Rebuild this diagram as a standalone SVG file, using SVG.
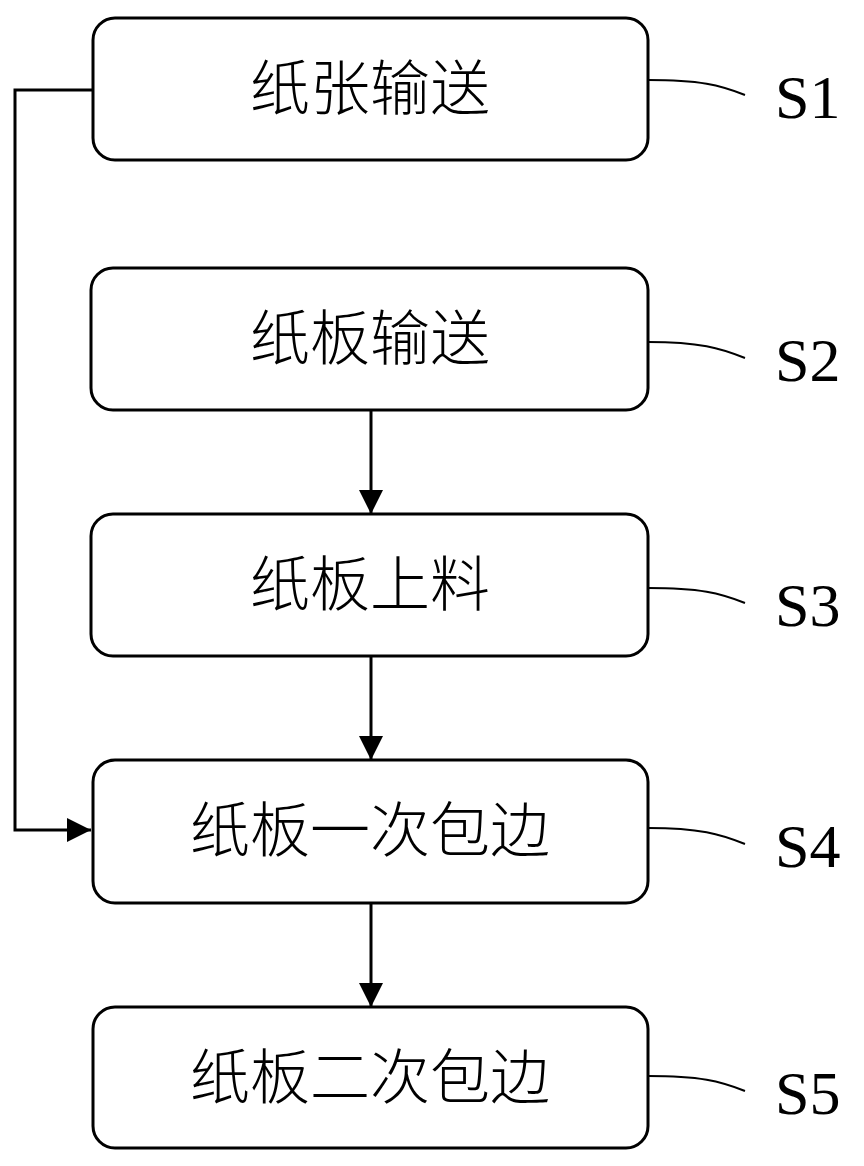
<svg xmlns="http://www.w3.org/2000/svg" width="864" height="1166" viewBox="0 0 864 1166">
<style>
.box{fill:#fff;stroke:#000;stroke-width:3}
.t{font-family:"Noto Sans CJK SC",sans-serif;font-size:60px;font-weight:300;text-anchor:middle}
.s{font-family:"Liberation Serif",serif;font-size:62px}
.c{fill:none;stroke:#000;stroke-width:3}
.l{fill:none;stroke:#000;stroke-width:2}
</style>
<defs><marker id="b" viewBox="0 0 10 10" refX="10" refY="5" markerWidth="24" markerHeight="24" markerUnits="userSpaceOnUse" orient="auto"><path d="M0,0L10,5L0,10z"/></marker></defs>
<g id="connectors">
<path class="c" d="M93,90H15V830H91" marker-end="url(#b)"/>
<path class="c" d="M371,410V514" marker-end="url(#b)"/>
<path class="c" d="M371,656V760" marker-end="url(#b)"/>
<path class="c" d="M371,903V1007" marker-end="url(#b)"/>
</g>
<g id="n1"><rect class="box" x="93" y="18" width="555" height="142" rx="22"/><text class="t" x="370" y="110">纸张输送</text><path class="l" d="M648,80C700,80 720,85 745,95"/><text class="s" x="775" y="118">S1</text></g>
<g id="n2"><rect class="box" x="91" y="268" width="557" height="142" rx="22"/><text class="t" x="370" y="360">纸板输送</text><path class="l" d="M648,342C700,342 720,348 745,358"/><text class="s" x="775" y="381">S2</text></g>
<g id="n3"><rect class="box" x="91" y="514" width="557" height="142" rx="22"/><text class="t" x="370" y="606">纸板上料</text><path class="l" d="M648,588C700,588 720,593 745,603"/><text class="s" x="775" y="626">S3</text></g>
<g id="n4"><rect class="box" x="93" y="760" width="555" height="143" rx="22"/><text class="t" x="370" y="852">纸板一次包边</text><path class="l" d="M648,828C700,828 720,834 745,844"/><text class="s" x="775" y="867">S4</text></g>
<g id="n5"><rect class="box" x="93" y="1007" width="555" height="141" rx="22"/><text class="t" x="370" y="1099">纸板二次包边</text><path class="l" d="M648,1076C700,1076 720,1081 745,1091"/><text class="s" x="775" y="1114">S5</text></g>
</svg>
